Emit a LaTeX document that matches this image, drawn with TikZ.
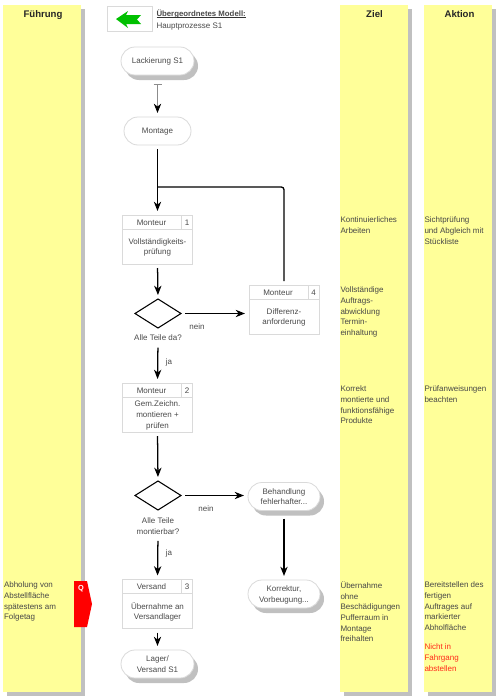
\documentclass[tikz,border=0pt]{standalone}
\usepackage{fontspec}
\setmainfont{Liberation Sans}
\usetikzlibrary{arrows.meta,shapes.geometric,shadows,calc}
\definecolor{colfill}{HTML}{FFFF99}
\definecolor{shade}{HTML}{C0C0C0}
\definecolor{edge}{HTML}{DADADA}
\definecolor{txt}{HTML}{4A4A4A}
\definecolor{warn}{HTML}{FF2A1A}
\definecolor{backarrow}{HTML}{00C000}
\def\px{0.75pt}
\tikzset{
  every node/.style={inner sep=0pt,outer sep=0pt,font=\fontsize{6}{7.95}\selectfont,text=txt,text depth=0pt},
  lane/.style={rectangle,anchor=north west,fill=colfill,minimum width=#1*\px,minimum height=687*\px,
    general shadow={shadow xshift=3pt,shadow yshift=-3pt,fill=shade}},
  lanetitle/.style={font=\fontsize{7.2}{9}\selectfont\bfseries,text=black!85},
  note/.style={anchor=north west,align=left,text=black!72},
  pill/.style={rectangle,draw=edge,fill=white,rounded corners=10.5pt,minimum width=#1*\px,minimum height=28*\px,align=center,line width=.6pt},
  pillshadow/.style={pill=#1,general shadow={shadow xshift=3pt,shadow yshift=-3.75pt,fill=shade}},
  procbox/.style={rectangle,draw=edge,line width=.6pt,fill=white,minimum width=70*\px,minimum height=49*\px},
  decision/.style={diamond,draw=black,line width=.8pt,aspect=1.6,minimum width=46*\px,minimum height=29*\px,fill=white},
  flow/.style={draw=black,line width=.95pt,-{Stealth[length=7pt,width=5.5pt,inset=2.2pt]},shorten <=3pt,shorten >=3pt},
  label/.style={align=center},
  rule/.style={draw=edge,line width=.6pt}
}
\newcommand{\proc}[6]{% name, x centre, y top, header, number, body
  \node[procbox,anchor=north] (#1) at (#2,#3) {};
  \coordinate (#1hl) at ($(#1.north west)+(0,-14*\px)$);
  \coordinate (#1hr) at ($(#1.north east)+(0,-14*\px)$);
  \coordinate (#1dt) at ($(#1.north east)+(-11*\px,0)$);
  \coordinate (#1db) at ($(#1.north east)+(-11*\px,-14*\px)$);
  \draw[rule] (#1hl) -- (#1hr) (#1dt) -- (#1db);
  \node (#1head) at ($(#1.north)+(-6*\px,-7.5*\px)$) {#4};
  \node (#1num) at ($(#1.north east)+(-5.5*\px,-7.5*\px)$) {#5};
  \node[align=center] (#1body) at ($(#1.north)+(0,-31.5*\px)$) {#6};
}
\begin{document}
\begin{tikzpicture}[x=0.75pt,y=-0.75pt]
\useasboundingbox (0,0) rectangle (500,700);
\fill[white] (0,0) rectangle (500,700);
% lanes
\node[lane=78] (lf) at (3,5) {};
\node[lane=68] (lz) at (340,5) {};
\node[lane=68] (la) at (424,5) {};
\node[lanetitle] (tf) at (43,14) {Führung};
\node[lanetitle] (tz) at (374.5,14) {Ziel};
\node[lanetitle] (ta) at (459.5,14) {Aktion};
% parent model
\node[rectangle,draw=edge,line width=.6pt,minimum width=45*\px,minimum height=25*\px,anchor=north west] (pm) at (107,6) {};
\fill[backarrow] (116,19) -- (128,11) -- (126,15) -- (141,15) -- (137,19.5) -- (141,24) -- (126,24) -- (128,28) -- cycle;
\node[anchor=base west,font=\fontsize{5.85}{8}\selectfont\bfseries] (pmt) at (156.5,16.5) {Übergeordnetes Modell:};
\draw[black!80,line width=.5pt] ($(pmt.base west)+(0,-.8pt)$) -- ($(pmt.base east)+(0,-.8pt)$);
\node[anchor=west] (pms) at (156.5,25.5) {Hauptprozesse S1};
% flow nodes
\node[pillshadow=73] (lack) at (157.5,61) {Lackierung S1};
\node[pill=67] (mont) at (157.5,131) {Montage};
\proc{b1}{157.5}{215}{Monteur}{1}{Vollständigkeits-\\prüfung}
\node[decision] (d1) at (158,313.5) {};
\node[label] (d1t) at (158,338) {Alle Teile da?};
\proc{b4}{284}{285}{Monteur}{4}{Differenz-\\anforderung}
\proc{b2}{157.5}{383}{Monteur}{2}{Gem.Zeichn.\\montieren +\\prüfen}
\node[decision] (d2) at (158,495.5) {};
\node[label] (d2t) at (158,526) {Alle Teile\\montierbar?};
\node[pillshadow=72] (beh) at (284,496.5) {Behandlung\\fehlerhafter...};
\node[pillshadow=72] (kor) at (284,594) {Korrektur,\\Vorbeugung...};
\proc{b3}{157.5}{579.5}{Versand}{3}{Übernahme an\\Versandlager}
\node[pillshadow=73] (lag) at (157.5,664) {Lager/\\Versand S1};
% connector labels
\node (n1) at (197,327) {nein};
\node (j1) at (169,362) {ja};
\node (n2) at (206,509) {nein};
\node (j2) at (169,553) {ja};
% connectors
\draw[draw=black!45,line width=.6pt,{Bar[width=6pt,length=.6pt]}-{Stealth[length=7pt,width=5.5pt,inset=2.2pt,black]},shorten <=7pt,shorten >=3pt] (lack.south) -- (mont.north);
\draw[flow] (mont.south) -- (b1.north);
\draw[flow] (b1.south) -- (d1.north);
\coordinate (merge) at (158,187);
\coordinate (mergeb) at (284,187);
\draw[draw=black,line width=.95pt,rounded corners=2pt,shorten <=3pt] (b4.north) -- (mergeb) -- (merge);
\draw[flow,shorten <=5pt] (d1t.south) -- (b2.north);
\draw[flow] (d1.east) -- (d1.east -| b4.west);
\draw[flow] (b2.south) -- (d2.north);
\draw[flow] (d2.east) -- (d2.east -| beh.west);
\draw[flow,shorten <=5pt] (d2t.south) -- (b3.north);
\draw[flow,shorten <=6pt] (beh.south) -- (kor.north);
\draw[flow] (b3.south) -- (lag.north);
% Q tag
\fill[red] (74,581) -- (87,581) -- (92,604) -- (87,627) -- (74,627) -- cycle;
\node[font=\fontsize{5.5}{6}\selectfont\bfseries,text=white] (q) at (81,588) {Q};
% notes
\node[note] (a1) at (4,582) {Abholung von\\Abstellfläche\\spätestens am\\Folgetag};
\node[note] (z1) at (340.5,217) {Kontinuierliches\\Arbeiten};
\node[note] (z2) at (340.5,287) {Vollständige\\Auftrags-\\abwicklung\\Termin-\\einhaltung};
\node[note] (z3) at (340.5,386) {Korrekt\\montierte und\\funktionsfähige\\Produkte};
\node[note] (z4) at (340.5,582) {Übernahme\\ohne\\Beschädigungen\\Pufferraum in\\Montage\\freihalten};
\node[note] (x1) at (424.5,217) {Sichtprüfung\\und Abgleich mit\\Stückliste};
\node[note] (x2) at (424.5,386) {Prüfanweisungen\\beachten};
\node[note] (x3) at (424.5,582) {Bereitstellen des\\fertigen\\Auftrages auf\\markierter\\Abholfläche};
\node[note,text=warn] (x4) at (424.5,644) {Nicht in\\Fahrgang\\abstellen};
\end{tikzpicture}
\end{document}
